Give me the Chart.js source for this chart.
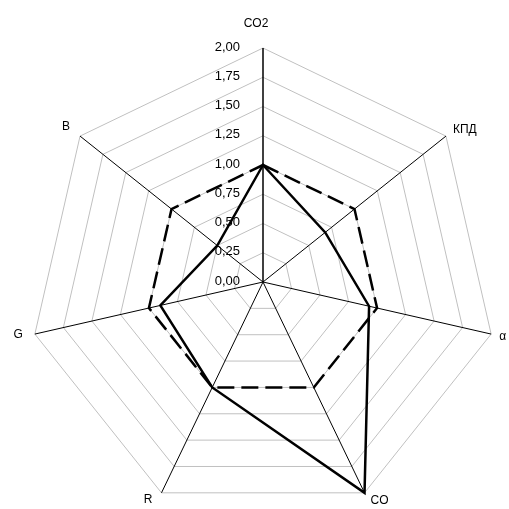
<!DOCTYPE html>
<html><head><meta charset="utf-8">
<script src="https://cdn.jsdelivr.net/npm/chart.js@4"></script>
<style>html,body{margin:0;padding:0;background:#fff;overflow:hidden}#wrap{width:509px;height:509px;position:relative}</style>
</head><body><div id="wrap"><canvas id="c" width="509" height="509"></canvas></div>
<script>
const categories = ['CO2', 'КПД', 'α', 'CO', 'R', 'G', 'B'];
const seriesSolid = [1.0, 0.68, 0.93, 2.0, 1.0, 0.9, 0.5];
const seriesDashed = [1.0, 1.0, 1.0, 1.0, 1.0, 1.0, 1.0];
const tickLabels = ['0,00', '0,25', '0,50', '0,75', '1,00', '1,25', '1,50', '1,75', '2,00'];

// label placement relative to each axis tip: [dx, dy, align]
const labelOffsets = [[-7, -24, 'center'], [7, -6, 'left'], [8, 3, 'left'], [6, 8, 'left'], [-9, 7, 'right'], [-12, 1, 'right'], [-10, -9, 'right']];

const labelPlugin = {
  id: 'labels',
  afterDraw(chart) {
    const s = chart.scales.r;
    const ctx = chart.ctx;
    ctx.save();
    ctx.fillStyle = '#000';
    ctx.font = '12px "Liberation Sans", Arial, sans-serif';
    ctx.textBaseline = 'middle';
    categories.forEach((c, i) => {
      const p = s.getPointPosition(i, s.drawingArea);
      const o = labelOffsets[i];
      ctx.textAlign = o[2];
      ctx.fillText(c, p.x + o[0], p.y + o[1]);
    });
    ctx.font = '13px "Liberation Sans", Arial, sans-serif';
    ctx.textAlign = 'right';
    s.ticks.forEach((t, i) => {
      const d = s.getDistanceFromCenterForValue(t.value);
      ctx.fillText(tickLabels[i], s.xCenter - 23, s.yCenter - d - 1);
    });
    ctx.restore();
  }
};

new Chart(document.getElementById('c'), {
  type: 'radar',
  data: {
    labels: categories,
    datasets: [
      { data: seriesDashed, borderColor: '#000', borderWidth: 2.5, borderDash: [17, 7], fill: false, pointRadius: 0, backgroundColor: 'transparent', borderJoinStyle: 'miter' },
      { data: seriesSolid, borderColor: '#000', borderWidth: 2.5, fill: false, pointRadius: 0, backgroundColor: 'transparent', borderJoinStyle: 'miter' }
    ]
  },
  options: {
    responsive: false,
    devicePixelRatio: 1,
    animation: false,
    plugins: { legend: { display: false }, tooltip: { enabled: false } },
    scales: {
      r: {
        min: 0, max: 2,
        ticks: { stepSize: 0.25, display: false },
        pointLabels: { display: false },
        grid: { color: '#c0c0c0', lineWidth: 1 },
        angleLines: { color: '#000', lineWidth: (c) => (c.index === 0 ? 1.5 : 1) },
        afterFit: (s) => { s.xCenter = 263; s.yCenter = 282; s.drawingArea = 234; }
      }
    }
  },
  plugins: [labelPlugin]
});
</script></body></html>
